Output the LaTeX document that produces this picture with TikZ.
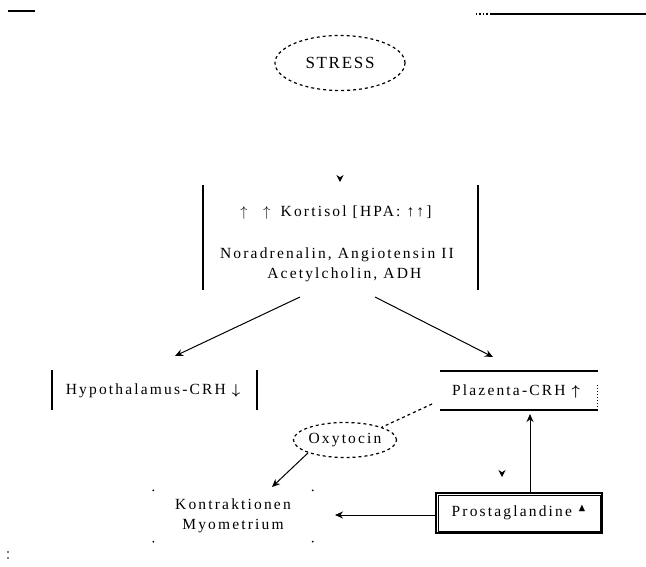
\documentclass[tikz,border=0pt]{standalone}
\usepackage{amsmath,amssymb}
\usepackage{fontspec}
\setmainfont{Liberation Serif}
\usetikzlibrary{arrows.meta,shapes.geometric}
\begin{document}
\begin{tikzpicture}[x=1pt,y=-1pt,
  txt/.style={font=\fontsize{15.5}{20}\selectfont\addfontfeatures{LetterSpace=14}, align=center, inner sep=0pt},
  dellipse/.style={ellipse, draw, dashed, line width=1.2pt, inner sep=0pt},
  arr/.style={-{Stealth[length=8pt,width=7pt]}, line width=1pt},
  tiponly/.style={-{Stealth[length=7pt,width=7pt,color=black]}, draw=white, line width=0.8pt},
  bar/.style={line width=1.3pt}]
\useasboundingbox (0,0) rectangle (646,567);
% top decorations
\draw[line width=1.4pt] (8,11) -- (35,11);
\draw[line width=1.4pt, dotted] (476,14) -- (490,14);
\draw[line width=1.4pt] (490,14) -- (646,14);
\node[circle, fill, inner sep=0.6pt] (dotA) at (8,552) {};
\node[circle, fill, inner sep=0.6pt] (dotB) at (8,558) {};
% STRESS
\node[dellipse, minimum width=130, minimum height=55, txt, font=\fontsize{17}{20}\selectfont\addfontfeatures{LetterSpace=10}] (stress) at (340,63) {STRESS};
\coordinate (sa) at (340,166);
\coordinate (sb) at (340,182);
\draw[tiponly] (sa) -- (sb);
% central box
\node[txt] (l1) at (336,213) {$\uparrow$\quad$\uparrow$\; Kortisol [HPA: ↑↑]};
\node[txt] (l2) at (337,265) {Noradrenalin, Angiotensin II\\ \;\; Acetylcholin, ADH};
\coordinate (bl1) at (203,185); \coordinate (bl2) at (203,290);
\coordinate (br1) at (478,185); \coordinate (br2) at (478,290);
\draw[bar] (bl1) -- (bl2);
\draw[bar] (br1) -- (br2);
\coordinate (cl) at (300,297);
\coordinate (cr) at (375,297);
% Hypothalamus
\node[txt] (hyp) at (153,391) {Hypothalamus-CRH $\boldsymbol{\downarrow}$};
\draw[bar] (52,370) -- (52,410);
\draw[bar] (257,370) -- (257,410);
\coordinate (hypt) at (175,356);
\draw[arr] (cl) -- (hypt);
% Plazenta
\node[txt] (pla) at (516,392) {Plazenta-CRH $\boldsymbol{\uparrow}$};
\draw[bar] (440,371) -- (598,371);
\draw[bar] (440,410) -- (598,410);
\draw[line width=1pt, dotted] (597,385) -- (597,410);
\coordinate (plat) at (493,357);
\draw[arr] (cr) -- (plat);
% Oxytocin
\node[dellipse, minimum width=90, minimum height=35, txt] (oxy) at (345,440) {Oxytocin};
\coordinate (plaL) at (432,404);
\draw[dashed, line width=1.2pt] (plaL) -- (oxy.north east);
% Kontraktionen
\node[txt, minimum width=159, minimum height=51] (kon) at (233,516) {Kontraktionen\\ Myometrium};
\foreach \c in {north west, north east, south west, south east}
  \fill (kon.\c) circle (1pt);
\coordinate (oxyend) at (272,487);
\draw[arr] (oxy.south west) -- (oxyend);
% Prostaglandine
\node[draw, line width=1.2pt, minimum width=166, minimum height=40, txt] (pro) at (519,513) {Prostaglandine $^{\blacktriangle}$};
\draw[line width=0.6pt] ([shift={(2.5,2.5)}]pro.north west) rectangle ([shift={(-2.5,-2.5)}]pro.south east);
\coordinate (konin) at (335,515);
\draw[arr] (pro.west |- konin) -- (konin);
\coordinate (prot) at (530,493);
\coordinate (plab) at (530,414);
\draw[arr] (prot) -- (plab);
\coordinate (pv1) at (502,460);
\coordinate (pv2) at (502,477);
\draw[tiponly] (pv1) -- (pv2);
\end{tikzpicture}
\end{document}
